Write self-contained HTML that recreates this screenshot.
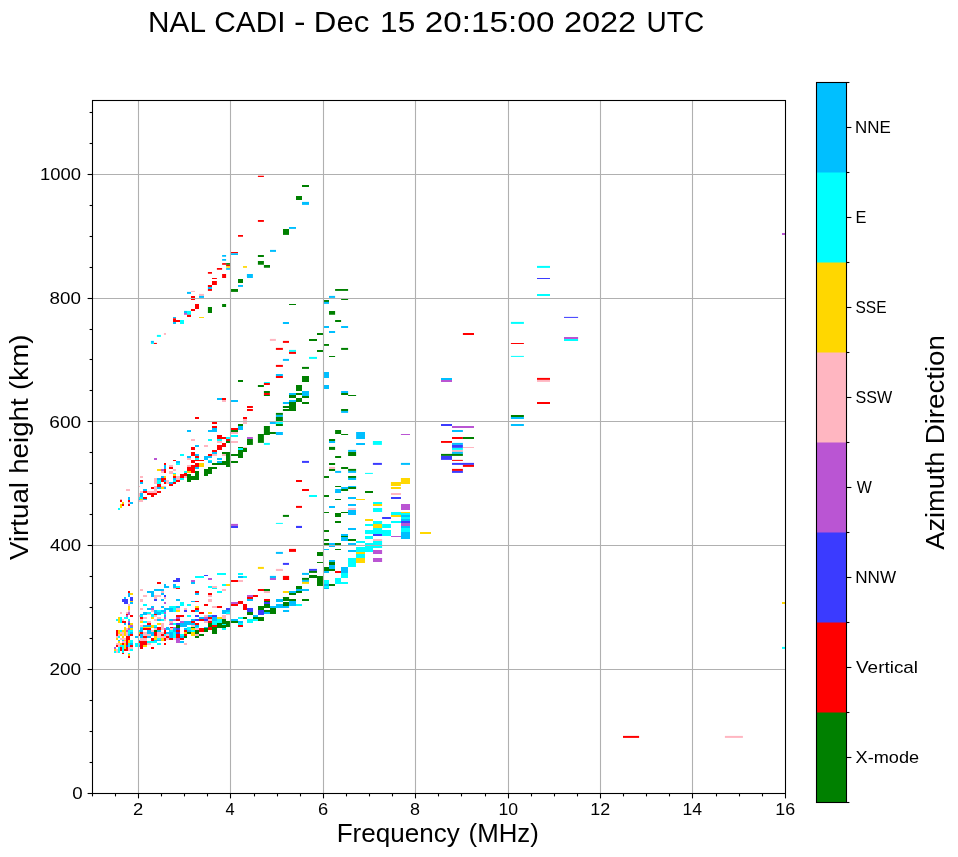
<!DOCTYPE html>
<html><head><meta charset="utf-8"><title>NAL CADI ionogram</title>
<style>html,body{margin:0;padding:0;background:#fff;}svg{display:block;will-change:transform;}text{font-family:"Liberation Sans",sans-serif;fill:#000;}</style></head>
<body>
<svg width="958" height="857" viewBox="0 0 958 857">
<rect width="958" height="857" fill="#fff"/>
<g>
<path fill="#ff0000" d="M238 234.9H243V236.8H238zM231 251.9H238V253.2H231z"/>
<path fill="#00bfff" d="M231 253.2H238V254.9H231zM222.1 255.1H226.1V256.7H222.1zM222.1 259.1H226.1V260.7H222.1z"/>
<path fill="#ff0000" d="M222.1 263.1H226.1V264.8H222.1z"/>
<path fill="#008000" d="M226.1 263.1H230.1V264.8H226.1z"/>
<path fill="#ff0000" d="M226.1 264.8H230.1V266.1H226.1z"/>
<path fill="#ffd700" d="M226.1 266.1H230.1V267.8H226.1z"/>
<path fill="#00bfff" d="M226.1 268.1H230.1V269.8H226.1z"/>
<path fill="#ffd700" d="M243 266.1H247V267.8H243z"/>
<path fill="#ff0000" d="M216.9 268.1H222.1V269.8H216.9zM207.9 272.1H212V273.8H207.9zM222.1 274H226.1V277H222.1zM257.9 175.8H263.9V176.9H257.9z"/>
<path fill="#008000" d="M302 184.9H309V186.9H302zM296 195.9H302V199.9H296z"/>
<path fill="#00bfff" d="M302 201.9H309V204.9H302z"/>
<path fill="#ff0000" d="M257.9 220H263.9V221.9H257.9z"/>
<path fill="#00bfff" d="M289 227H296V228.9H289z"/>
<path fill="#008000" d="M283 229H289V234.9H283z"/>
<path fill="#00bfff" d="M270 249.9H276V251.9H270z"/>
<path fill="#008000" d="M257.9 254.9H263.9V256.9H257.9zM257.9 261.1H263.9V264.8H257.9zM263.9 265.1H270V267.8H263.9z"/>
<path fill="#00bfff" d="M246.9 274H252.9V277H246.9z"/>
<path fill="#ff0000" d="M212 277.9H216.9V279H212zM222.1 277H226.1V278H222.1z"/>
<path fill="#00bfff" d="M247 277H250V278H247z"/>
<path fill="#008000" d="M238 279H243V283H238z"/>
<path fill="#00bfff" d="M238 285H243V286.9H238z"/>
<path fill="#008000" d="M231 289H238V291.9H231z"/>
<path fill="#ff0000" d="M212 281H216.9V285H212zM207.9 285H212V287H207.9z"/>
<path fill="#00bfff" d="M207.9 287H212V289H207.9z"/>
<path fill="#ff0000" d="M207.9 289H212V290.9H207.9z"/>
<path fill="#ffb6c1" d="M191 290.9H195V291.9H191z"/>
<path fill="#00bfff" d="M187 291.9H191V293.9H187z"/>
<path fill="#ffb6c1" d="M199 293.9H204V295.9H199z"/>
<path fill="#00bfff" d="M199 295.9H204V297.9H199z"/>
<path fill="#ff0000" d="M191 295.9H195V299.9H191zM195 303.9H199V308.9H195zM191 308.9H195V310.9H191z"/>
<path fill="#008000" d="M222.1 303.9H226.1V306.9H222.1zM207.9 306.9H212V313H207.9z"/>
<path fill="#00bfff" d="M184 310.9H187V313H184z"/>
<path fill="#ba55d3" d="M184 313H187V314.8H184z"/>
<path fill="#00ffff" d="M187 310.9H191V314.8H187z"/>
<path fill="#ff0000" d="M187 314.8H191V317H187z"/>
<path fill="#ffd700" d="M199 317H204V318H199z"/>
<path fill="#00bfff" d="M173 317H176V318.2H173z"/>
<path fill="#ff0000" d="M173 318.2H176V322H173zM176 320H180V322H176z"/>
<path fill="#00bfff" d="M173 322H176V324H173z"/>
<path fill="#00ffff" d="M180 320H184V324H180z"/>
<path fill="#ffb6c1" d="M163.9 333H166V334.9H163.9z"/>
<path fill="#00ffff" d="M156.9 334.9H160.9V336.9H156.9z"/>
<path fill="#00bfff" d="M150.9 340.9H153.9V342.9H150.9z"/>
<path fill="#00ffff" d="M150.9 342.9H153.9V344H150.9z"/>
<path fill="#ff0000" d="M153.9 342.9H156.9V344H153.9z"/>
<path fill="#008000" d="M238 380H243V382H238z"/>
<path fill="#00bfff" d="M250 277H252.9V278H250z"/>
<path fill="#008000" d="M335.1 289H348.1V290.9H335.1z"/>
<path fill="#00bfff" d="M329 295.9H335.1V297.9H329z"/>
<path fill="#008000" d="M341.1 298.9H348.1V299.9H341.1zM324 299.9H329V301.9H324z"/>
<path fill="#00bfff" d="M324 301.9H329V303.9H324z"/>
<path fill="#008000" d="M289 303.9H296V304.9H289zM329 310.9H335.1V314.8H329zM335.1 320H341.1V322H335.1z"/>
<path fill="#00bfff" d="M282.9 322H289V324H282.9zM324 326H329V328H324zM341.1 326H348.1V328H341.1zM329 331H335.1V333H329z"/>
<path fill="#008000" d="M317 333H323V334.9H317zM309 338.9H317V340.9H309z"/>
<path fill="#ffb6c1" d="M269.9 338.9H275.9V340.9H269.9z"/>
<path fill="#ff0000" d="M282.9 340.9H289V342.9H282.9z"/>
<path fill="#008000" d="M324 344H329V345.9H324z"/>
<path fill="#ff0000" d="M275.9 347.9H282.9V349.9H275.9z"/>
<path fill="#008000" d="M341.1 347.9H348.1V349.9H341.1z"/>
<path fill="#00ffff" d="M289 349.9H296V351.9H289z"/>
<path fill="#ff0000" d="M289 351.9H296V353.9H289z"/>
<path fill="#008000" d="M317 349.9H323V351.9H317zM329 355.9H335.1V356.9H329z"/>
<path fill="#00ffff" d="M309 356.9H317V358.9H309z"/>
<path fill="#00bfff" d="M282.9 358.9H289V360.9H282.9z"/>
<path fill="#ff0000" d="M275.9 364.9H282.9V366.9H275.9z"/>
<path fill="#008000" d="M302 366.9H309V368.9H302z"/>
<path fill="#00bfff" d="M324 372H329V378H324zM275.9 374H282.9V376H275.9z"/>
<path fill="#ff0000" d="M275.9 376H282.9V378H275.9z"/>
<path fill="#008000" d="M302 376H309V382H302z"/>
<path fill="#00ffff" d="M263.9 382H269.9V383H263.9z"/>
<path fill="#ff0000" d="M263.9 383H269.9V384H263.9zM462.9 333H474V334.9H462.9z"/>
<path fill="#00bfff" d="M441 378H452V380H441z"/>
<path fill="#ba55d3" d="M441 380H452V382H441z"/>
<path fill="#00ffff" d="M537 265.9H550V267.9H537z"/>
<path fill="#3b3bff" d="M537 278H550V279H537z"/>
<path fill="#00ffff" d="M537 294H550V296H537z"/>
<path fill="#3b3bff" d="M564 316.9H578.1V317.9H564z"/>
<path fill="#00ffff" d="M510.9 321.9H523.9V323.9H510.9z"/>
<path fill="#ba55d3" d="M564 337H578.1V339H564z"/>
<path fill="#00ffff" d="M564 339H578.1V341H564z"/>
<path fill="#ff0000" d="M510.9 343H523.9V344H510.9z"/>
<path fill="#00ffff" d="M510.9 355.9H523.9V356.9H510.9z"/>
<path fill="#ff0000" d="M537 377.9H550V379.9H537z"/>
<path fill="#ffb6c1" d="M537 379.9H550V381.9H537z"/>
<path fill="#ff0000" d="M537 402H550V404H537z"/>
<path fill="#008000" d="M510.9 415H523.9V417H510.9z"/>
<path fill="#00bfff" d="M510.9 417H523.9V419H510.9zM510.9 423.9H523.9V425.9H510.9z"/>
<path fill="#ff0000" d="M263.9 384H269.9V385H263.9z"/>
<path fill="#008000" d="M257.9 385H263.9V387H257.9zM263.9 391H269.9V393H263.9z"/>
<path fill="#ff0000" d="M263.9 393H269.9V395H263.9z"/>
<path fill="#008000" d="M263.9 395H269.9V396H263.9zM296 385H302V391H296z"/>
<path fill="#00bfff" d="M289 393H296V395H289z"/>
<path fill="#008000" d="M296 393H302V395H296z"/>
<path fill="#00bfff" d="M302 391H309V396H302z"/>
<path fill="#008000" d="M302 396H309V397.9H302zM289 395H296V397.9H289zM296 397.9H302V401.9H296z"/>
<path fill="#00bfff" d="M289 399.9H296V401.9H289zM282.9 401.9H289V403.9H282.9z"/>
<path fill="#008000" d="M289 401.9H296V410.9H289zM302 401.9H309V403.9H302zM282.9 405.9H289V407.9H282.9zM282.9 408.9H289V410.9H282.9z"/>
<path fill="#ff0000" d="M250 405.9H252.9V407.9H250zM250 408.9H252.9V410.9H250z"/>
<path fill="#008000" d="M275.9 412.9H282.9V414.9H275.9z"/>
<path fill="#00bfff" d="M275.9 414.9H282.9V416.9H275.9z"/>
<path fill="#008000" d="M275.9 416.9H282.9V421.8H275.9z"/>
<path fill="#00bfff" d="M269.9 421.8H275.9V424H269.9z"/>
<path fill="#00ffff" d="M275.9 421.8H282.9V424H275.9z"/>
<path fill="#008000" d="M275.9 424H282.9V426H275.9zM263.9 426H269.9V435H263.9zM269.9 432H275.9V434H269.9z"/>
<path fill="#00bfff" d="M275.9 432H282.9V435H275.9z"/>
<path fill="#008000" d="M257.9 434H263.9V442.9H257.9z"/>
<path fill="#ba55d3" d="M250 437H252.9V439H250z"/>
<path fill="#008000" d="M250 439H252.9V444.9H250z"/>
<path fill="#00ffff" d="M263.9 442.9H269.9V444.9H263.9z"/>
<path fill="#3b3bff" d="M302 460.9H309V462.9H302z"/>
<path fill="#ff0000" d="M296 480H302V482H296zM302 489H309V491H302z"/>
<path fill="#00bfff" d="M324 385H329V389H324zM341.1 391H348.1V393H341.1z"/>
<path fill="#008000" d="M341.1 393H348.1V395H341.1zM348.1 395H356.1V396H348.1zM341.1 408.9H348.1V410.9H341.1z"/>
<path fill="#00bfff" d="M341.1 410.9H348.1V412.9H341.1z"/>
<path fill="#008000" d="M335.1 430H341.1V434H335.1zM341.1 434H348.1V435H341.1z"/>
<path fill="#00bfff" d="M356.1 432H365V439H356.1z"/>
<path fill="#008000" d="M329 439H335.1V441H329z"/>
<path fill="#00bfff" d="M329 441H335.1V442.9H329zM356.1 442.9H365V444.9H356.1z"/>
<path fill="#008000" d="M329 446.9H335.1V449.9H329z"/>
<path fill="#00bfff" d="M348.1 449.9H356.1V451.9H348.1z"/>
<path fill="#008000" d="M348.1 451.9H356.1V455.9H348.1zM335.1 455.9H341.1V457.9H335.1zM329 462.9H335.1V464.9H329z"/>
<path fill="#ffb6c1" d="M329 466.9H335.1V468.9H329z"/>
<path fill="#008000" d="M329 468.9H335.1V470.9H329zM341.1 466.9H348.1V468.9H341.1z"/>
<path fill="#00bfff" d="M335.1 470.9H341.1V472.9H335.1z"/>
<path fill="#008000" d="M348.1 468.9H356.1V470.9H348.1z"/>
<path fill="#00bfff" d="M348.1 470.9H356.1V472.9H348.1z"/>
<path fill="#00ffff" d="M365 472.9H370V473.9H365z"/>
<path fill="#008000" d="M324 475.9H329V477.9H324zM348.1 475.9H356.1V477.9H348.1z"/>
<path fill="#00bfff" d="M348.1 477.9H356.1V480H348.1z"/>
<path fill="#008000" d="M335.1 486H341.1V487H335.1z"/>
<path fill="#00bfff" d="M341.1 487H348.1V489H341.1zM348.1 486H356.1V487H348.1z"/>
<path fill="#008000" d="M348.1 487H356.1V489H348.1z"/>
<path fill="#00bfff" d="M335.1 489H341.1V491H335.1z"/>
<path fill="#008000" d="M341.1 489H348.1V491H341.1z"/>
<path fill="#00bfff" d="M217 398H222V400H217z"/>
<path fill="#ff0000" d="M222 398H226V400H222z"/>
<path fill="#ffb6c1" d="M222 400H226V402H222z"/>
<path fill="#00bfff" d="M231 400H238V402H231z"/>
<path fill="#ff0000" d="M247 406H250V408H247zM247 409H250V411H247zM195 417H199V419H195zM243 417H247V419H243z"/>
<path fill="#ffb6c1" d="M243 419H247V421H243zM243 422H247V424H243z"/>
<path fill="#ff0000" d="M212 422H217V424H212zM212 426H217V428H212z"/>
<path fill="#00bfff" d="M212 428H217V430H212zM208 430H217V432H208z"/>
<path fill="#008000" d="M238 424H243V426H238z"/>
<path fill="#00bfff" d="M238 426H243V430H238z"/>
<path fill="#ff0000" d="M231 428H238V430H231z"/>
<path fill="#008000" d="M231 430H238V432H231z"/>
<path fill="#ffb6c1" d="M231 432H238V434H231z"/>
<path fill="#00ffff" d="M231 435H238V437H231z"/>
<path fill="#ff0000" d="M217 435H222V439H217zM222 437H226V439H222z"/>
<path fill="#00ffff" d="M226 437H230V439H226zM217 439H222V441H217z"/>
<path fill="#ff0000" d="M226 439H230V441H226z"/>
<path fill="#008000" d="M226 441H230V443H226z"/>
<path fill="#ffb6c1" d="M217 441H222V443H217zM191 439H195V441H191z"/>
<path fill="#00ffff" d="M208 439H212V441H208z"/>
<path fill="#ffb6c1" d="M231 441H238V443H231z"/>
<path fill="#ff0000" d="M222 443H226V444H222z"/>
<path fill="#ba55d3" d="M247 437H250V439H247z"/>
<path fill="#008000" d="M247 439H250V444H247z"/>
<path fill="#ff0000" d="M222 444H226V447H222zM217 445H222V450H217z"/>
<path fill="#00bfff" d="M195 445H199V447H195z"/>
<path fill="#ffb6c1" d="M204 445H208V447H204z"/>
<path fill="#ff0000" d="M191 447H195V450H191zM212 450H217V452H212z"/>
<path fill="#00bfff" d="M212 452H217V454H212z"/>
<path fill="#ffb6c1" d="M212 454H217V456H212z"/>
<path fill="#ff0000" d="M191 452H195V456H191z"/>
<path fill="#00bfff" d="M195 454H199V456H195z"/>
<path fill="#ff0000" d="M208 454H212V456H208zM195 456H199V458H195z"/>
<path fill="#00bfff" d="M190 456H191V458H190zM204 456H212V458H204zM204 458H208V460H204z"/>
<path fill="#00ffff" d="M195 458H199V460H195z"/>
<path fill="#ffb6c1" d="M190 458H191V460H190z"/>
<path fill="#ff0000" d="M191 460H204V461H191zM191 461H195V463H191z"/>
<path fill="#00ffff" d="M208 460H212V461H208z"/>
<path fill="#00bfff" d="M208 461H212V463H208zM217 458H222V460H217zM217 461H222V463H217z"/>
<path fill="#ffb6c1" d="M222 454H226V456H222z"/>
<path fill="#008000" d="M222 452H230V454H222zM226 454H230V467H226zM222 461H226V463H222zM212 463H226V465H212z"/>
<path fill="#ff0000" d="M195 463H199V467H195z"/>
<path fill="#ffd700" d="M199 463H204V467H199z"/>
<path fill="#ff0000" d="M191 465H195V473H191zM190 467H191V471H190z"/>
<path fill="#ffd700" d="M190 471H191V473H190z"/>
<path fill="#ffb6c1" d="M190 465H191V467H190z"/>
<path fill="#00bfff" d="M195 467H199V469H195z"/>
<path fill="#008000" d="M208 467H217V469H208zM204 469H212V474H204zM204 474H208V476H204zM195 471H199V480H195zM190 476H195V480H190zM190 474H191V482H190zM247 444H250V445H247z"/>
<path fill="#ffb6c1" d="M243 447H247V448H243z"/>
<path fill="#008000" d="M238 447H243V448H238z"/>
<path fill="#00ffff" d="M238 448H243V450H238z"/>
<path fill="#008000" d="M243 448H247V452H243zM238 450H243V458H238zM231 454H238V456H231zM231 461H238V463H231z"/>
<path fill="#00ffff" d="M180 454H184V456H180z"/>
<path fill="#00bfff" d="M187 456H190V458H187z"/>
<path fill="#ffb6c1" d="M187 458H190V460H187z"/>
<path fill="#ba55d3" d="M154 458H157V460H154z"/>
<path fill="#ff0000" d="M173 460H176V461H173z"/>
<path fill="#00bfff" d="M176 461H180V463H176z"/>
<path fill="#00ffff" d="M176 463H180V465H176z"/>
<path fill="#ff0000" d="M164 463H166V465H164z"/>
<path fill="#00bfff" d="M164 465H166V469H164z"/>
<path fill="#ff0000" d="M164 469H166V473H164z"/>
<path fill="#ffb6c1" d="M169 465H173V467H169z"/>
<path fill="#ff0000" d="M169 467H173V469H169z"/>
<path fill="#ffb6c1" d="M187 465H190V467H187z"/>
<path fill="#ff0000" d="M187 467H190V471H187z"/>
<path fill="#ffd700" d="M157 469H161V471H157z"/>
<path fill="#ba55d3" d="M161 469H164V471H161z"/>
<path fill="#ffb6c1" d="M161 471H164V473H161zM173 469H176V471H173zM169 471H173V474H169z"/>
<path fill="#00ffff" d="M184 471H187V473H184z"/>
<path fill="#ffd700" d="M187 471H190V473H187z"/>
<path fill="#008000" d="M187 474H190V482H187z"/>
<path fill="#00ffff" d="M173 473H176V474H173z"/>
<path fill="#ffd700" d="M173 474H176V476H173z"/>
<path fill="#ff0000" d="M173 476H176V478H173z"/>
<path fill="#00bfff" d="M173 478H176V480H173z"/>
<path fill="#00ffff" d="M173 480H176V482H173z"/>
<path fill="#ff0000" d="M173 482H176V484H173zM180 474H184V478H180zM184 473H187V476H184z"/>
<path fill="#ffb6c1" d="M184 476H187V478H184zM176 476H180V480H176z"/>
<path fill="#00ffff" d="M180 478H184V480H180z"/>
<path fill="#ff0000" d="M176 480H180V482H176z"/>
<path fill="#ffb6c1" d="M140 476H143V478H140z"/>
<path fill="#00bfff" d="M161 476H164V478H161z"/>
<path fill="#ffd700" d="M164 476H166V478H164z"/>
<path fill="#ffb6c1" d="M154 478H157V484H154z"/>
<path fill="#00bfff" d="M157 478H161V480H157z"/>
<path fill="#00ffff" d="M157 480H161V484H157z"/>
<path fill="#ff0000" d="M161 478H166V480H161zM161 480H164V482H161z"/>
<path fill="#00bfff" d="M164 480H166V482H164z"/>
<path fill="#ff0000" d="M164 482H166V484H164z"/>
<path fill="#ffb6c1" d="M166 480H169V484H166z"/>
<path fill="#00bfff" d="M169 482H173V484H169z"/>
<path fill="#ff0000" d="M169 484H173V486H169zM140 480H143V482H140z"/>
<path fill="#00bfff" d="M140 482H143V484H140z"/>
<path fill="#ff0000" d="M157 484H161V487H157z"/>
<path fill="#ffb6c1" d="M161 486H166V487H161z"/>
<path fill="#00bfff" d="M157 487H161V489H157z"/>
<path fill="#ffd700" d="M161 487H164V489H161z"/>
<path fill="#00bfff" d="M164 487H166V489H164z"/>
<path fill="#ff0000" d="M151 487H154V489H151z"/>
<path fill="#ffb6c1" d="M154 486H157V493H154zM139 486H140V487H139z"/>
<path fill="#00bfff" d="M143 489H147V491H143z"/>
<path fill="#ff0000" d="M143 491H147V493H143z"/>
<path fill="#ffb6c1" d="M140 491H143V493H140zM147 491H154V493H147z"/>
<path fill="#ff0000" d="M157 491H161V493H157zM147 493H157V495H147zM151 495H154V497H151z"/>
<path fill="#00bfff" d="M140 493H143V497H140z"/>
<path fill="#ffb6c1" d="M139 493H140V497H139z"/>
<path fill="#00ffff" d="M139 497H143V498H139z"/>
<path fill="#ff0000" d="M143 497H147V498H143z"/>
<path fill="#00bfff" d="M187 430H191V432H187z"/>
<path fill="#3b3bff" d="M441 424H452V426H441z"/>
<path fill="#ba55d3" d="M452 426H474V428H452z"/>
<path fill="#00bfff" d="M452 430H462.9V432H452z"/>
<path fill="#ba55d3" d="M400.9 434H410V435H400.9z"/>
<path fill="#ff0000" d="M452 437H462.9V439H452z"/>
<path fill="#008000" d="M462.9 437H474V439H462.9z"/>
<path fill="#ff0000" d="M441 441H452V442.9H441z"/>
<path fill="#00ffff" d="M372.9 441H381.9V444.9H372.9z"/>
<path fill="#00bfff" d="M452 442.9H462.9V444.9H452z"/>
<path fill="#3b3bff" d="M452 444.9H462.9V447.9H452z"/>
<path fill="#00ffff" d="M452 447.9H462.9V449.9H452z"/>
<path fill="#ffb6c1" d="M462.9 446.9H474V447.9H462.9zM452 449.9H462.9V451.9H452z"/>
<path fill="#00bfff" d="M452 451.9H462.9V453.9H452z"/>
<path fill="#008000" d="M441 453.9H462.9V455.9H441z"/>
<path fill="#3b3bff" d="M441 455.9H452V459.9H441z"/>
<path fill="#ff0000" d="M452 459.9H462.9V460.9H452z"/>
<path fill="#3b3bff" d="M452 462.9H474V464.9H452z"/>
<path fill="#ff0000" d="M462.9 464.9H474V466.9H462.9z"/>
<path fill="#00bfff" d="M400.9 462.9H410V464.9H400.9z"/>
<path fill="#3b3bff" d="M372.9 462.9H381.9V464.9H372.9z"/>
<path fill="#ff0000" d="M452 468.9H462.9V470.9H452z"/>
<path fill="#3b3bff" d="M452 470.9H462.9V472.9H452z"/>
<path fill="#00ffff" d="M370 472.9H372.9V473.9H370z"/>
<path fill="#ffd700" d="M400.9 477.9H410V484H400.9zM390.9 482H400.9V486H390.9zM390.9 487H400.9V489H390.9z"/>
<path fill="#00ffff" d="M309 495H317V497H309z"/>
<path fill="#ff0000" d="M296 505.9H302V507.9H296z"/>
<path fill="#008000" d="M282.9 514.9H289V516.9H282.9z"/>
<path fill="#00ffff" d="M275.9 522.9H282.9V523.9H275.9z"/>
<path fill="#3b3bff" d="M296 525.9H302V528H296z"/>
<path fill="#ff0000" d="M289 548.9H296V551.9H289z"/>
<path fill="#00bfff" d="M275.9 551.9H282.9V553.9H275.9z"/>
<path fill="#008000" d="M317 551.9H323V555.9H317zM317 561.9H323V562.9H317z"/>
<path fill="#3b3bff" d="M282.9 562.9H289V564.9H282.9z"/>
<path fill="#ffd700" d="M257.9 566.9H263.9V568.9H257.9z"/>
<path fill="#ffb6c1" d="M275.9 568.9H282.9V570.9H275.9z"/>
<path fill="#3b3bff" d="M309 568.9H317V570.9H309z"/>
<path fill="#008000" d="M309 570.9H317V572.9H309z"/>
<path fill="#00bfff" d="M302 572.9H309V574.9H302z"/>
<path fill="#008000" d="M309 574.9H317V577.9H309zM317 575.9H323V586H317z"/>
<path fill="#00bfff" d="M269.9 575.9H275.9V577.9H269.9z"/>
<path fill="#ba55d3" d="M269.9 577.9H275.9V579.9H269.9z"/>
<path fill="#ff0000" d="M282.9 575.9H289V579.9H282.9z"/>
<path fill="#008000" d="M302 577.9H309V579.9H302z"/>
<path fill="#00bfff" d="M302 579.9H309V581.9H302z"/>
<path fill="#ffd700" d="M302 581.9H309V583.9H302z"/>
<path fill="#008000" d="M296 586H302V589H296z"/>
<path fill="#00bfff" d="M302 589H309V591H302z"/>
<path fill="#ff0000" d="M257.9 589H263.9V591H257.9z"/>
<path fill="#008000" d="M263.9 589H269.9V591H263.9z"/>
<path fill="#ffb6c1" d="M263.9 591H269.9V593H263.9z"/>
<path fill="#ffd700" d="M282.9 591H289V593H282.9z"/>
<path fill="#00bfff" d="M289 591H296V593H289zM296 589H302V591H296z"/>
<path fill="#008000" d="M296 591H302V593H296zM289 593H296V595H289z"/>
<path fill="#ba55d3" d="M250 595H252.9V597H250z"/>
<path fill="#ff0000" d="M252.9 595H257.9V597H252.9zM250 597H252.9V598H250z"/>
<path fill="#008000" d="M282.9 597H289V598H282.9z"/>
<path fill="#00bfff" d="M335 491H341V493H335z"/>
<path fill="#008000" d="M365 491H373V493H365zM324 495H329V497H324zM335 499H341V500H335z"/>
<path fill="#00bfff" d="M348 497H356V499H348z"/>
<path fill="#ffd700" d="M356 499H365V500H356z"/>
<path fill="#00ffff" d="M373 502H382.1V504H373z"/>
<path fill="#ffd700" d="M373 504H382.1V506H373z"/>
<path fill="#00bfff" d="M348 504H356V506H348zM329 506H335V508H329z"/>
<path fill="#ffb6c1" d="M348 508H356V510H348z"/>
<path fill="#00ffff" d="M373 508H382.1V512H373z"/>
<path fill="#00bfff" d="M348 510H356V515H348z"/>
<path fill="#008000" d="M324 512H329V513H324zM341 512H348V513H341zM335 513H341V517H335z"/>
<path fill="#3b3bff" d="M382.1 517H383V519H382.1z"/>
<path fill="#ffd700" d="M365 519H373V521H365z"/>
<path fill="#008000" d="M335 521H341V523H335z"/>
<path fill="#00ffff" d="M373 521H382.1V524H373zM365 524H373V526H365z"/>
<path fill="#ffd700" d="M373 524H382.1V528H373z"/>
<path fill="#00ffff" d="M382.1 524H383V528H382.1z"/>
<path fill="#00bfff" d="M348 528H356V530H348z"/>
<path fill="#00ffff" d="M373 528H382.1V534H373zM382.1 530H383V536H382.1z"/>
<path fill="#008000" d="M324 530H329V532H324z"/>
<path fill="#00ffff" d="M365 530H373V534H365z"/>
<path fill="#3b3bff" d="M373 534H382.1V536H373z"/>
<path fill="#00bfff" d="M341 534H348V536H341z"/>
<path fill="#008000" d="M341 536H348V537H341z"/>
<path fill="#00bfff" d="M341 537H348V541H341z"/>
<path fill="#00ffff" d="M365 536H373V539H365z"/>
<path fill="#008000" d="M348 539H356V541H348zM324 539H329V541H324z"/>
<path fill="#ffb6c1" d="M373 539H382.1V541H373z"/>
<path fill="#00ffff" d="M356 541H365V543H356zM373 541H382.1V545H373z"/>
<path fill="#008000" d="M324 543H329V545H324z"/>
<path fill="#00bfff" d="M329 543H335V545H329z"/>
<path fill="#008000" d="M335 543H341V545H335z"/>
<path fill="#00bfff" d="M348 543H356V545H348z"/>
<path fill="#00ffff" d="M365 543H373V545H365z"/>
<path fill="#ffb6c1" d="M391 493H401V495H391z"/>
<path fill="#3b3bff" d="M391 497H401V499H391z"/>
<path fill="#ba55d3" d="M401 504H410V510H401z"/>
<path fill="#00ffff" d="M391 512H401V515H391z"/>
<path fill="#ffd700" d="M401 512H410V513H401z"/>
<path fill="#00ffff" d="M401 513H410V515H401z"/>
<path fill="#ffd700" d="M391 515H401V517H391z"/>
<path fill="#00bfff" d="M401 515H410V517H401z"/>
<path fill="#3b3bff" d="M383 517H391V519H383z"/>
<path fill="#00ffff" d="M401 517H410V519H401z"/>
<path fill="#00bfff" d="M401 519H410V521H401z"/>
<path fill="#00ffff" d="M391 521H401V523H391z"/>
<path fill="#3b3bff" d="M401 521H410V523H401z"/>
<path fill="#ba55d3" d="M401 523H410V526H401z"/>
<path fill="#00bfff" d="M401 526H410V528H401z"/>
<path fill="#00ffff" d="M383 524H391V528H383zM401 528H410V532H401zM383 530H391V536H383z"/>
<path fill="#00bfff" d="M401 532H410V539H401z"/>
<path fill="#ba55d3" d="M391 536H401V537H391z"/>
<path fill="#ffd700" d="M420 532H431V534H420z"/>
<path fill="#00bfff" d="M329 545.6H335V547H329z"/>
<path fill="#00ffff" d="M365 545H382.1V548H365zM356 547H365V552H356zM365 548H373V552H365z"/>
<path fill="#00bfff" d="M324 549H329V550H324z"/>
<path fill="#008000" d="M335 549H341V550H335z"/>
<path fill="#00bfff" d="M348 550H356V552H348z"/>
<path fill="#ba55d3" d="M373 550H382.1V554H373z"/>
<path fill="#ffd700" d="M356 552H365V554H356z"/>
<path fill="#00ffff" d="M356 554H365V558H356z"/>
<path fill="#ffd700" d="M356 558H365V563H356z"/>
<path fill="#00ffff" d="M348 558H356V567H348z"/>
<path fill="#ba55d3" d="M373 558H382.1V562H373z"/>
<path fill="#00bfff" d="M329 560H335V562H329z"/>
<path fill="#008000" d="M329 562H335V565H329z"/>
<path fill="#00bfff" d="M329 565H335V569H329z"/>
<path fill="#008000" d="M324 567H329V571H324zM329 569H335V571H329z"/>
<path fill="#00bfff" d="M324 571H329V573H324z"/>
<path fill="#ff0000" d="M335 571H341V573H335z"/>
<path fill="#00bfff" d="M341 567H348V573H341z"/>
<path fill="#00ffff" d="M341 573H348V578H341zM335 578H341V584H335zM341 582H348V584H341zM324 580H329V584H324z"/>
<path fill="#00bfff" d="M324 584H329V586H324z"/>
<path fill="#008000" d="M329 584H335V586H329z"/>
<path fill="#00ffff" d="M324 586H329V588H324z"/>
<path fill="#00bfff" d="M324 588H329V589H324z"/>
<path fill="#ff0000" d="M128 591H130V593H128z"/>
<path fill="#00bfff" d="M128 593H130V597H128z"/>
<path fill="#ffd700" d="M130 593H133V595H130z"/>
<path fill="#00bfff" d="M124 597H126V599H124z"/>
<path fill="#3b3bff" d="M130 597H133V601H130zM122 599H128V602H122zM124 602H128V604H124z"/>
<path fill="#ffd700" d="M130 601H133V602H130z"/>
<path fill="#00bfff" d="M130 602H133V604H130z"/>
<path fill="#ffb6c1" d="M128 604H130V606H128z"/>
<path fill="#ffd700" d="M128 606H130V610H128z"/>
<path fill="#ffb6c1" d="M128 610H130V612H128z"/>
<path fill="#ba55d3" d="M128 612H130V615H128z"/>
<path fill="#ffb6c1" d="M120 612H122V614H120zM126 612H128V614H126z"/>
<path fill="#ff0000" d="M126 614H128V615H126z"/>
<path fill="#ba55d3" d="M126 615H128V617H126z"/>
<path fill="#ff0000" d="M130 615H133V617H130z"/>
<path fill="#00ffff" d="M124 617H128V619H124z"/>
<path fill="#ffd700" d="M118 617H120V623H118z"/>
<path fill="#00ffff" d="M120 617H122V623H120zM116 619H118V621H116z"/>
<path fill="#ffb6c1" d="M122 619H124V621H122z"/>
<path fill="#00ffff" d="M128 619H130V621H128z"/>
<path fill="#ff0000" d="M122 621H126V623H122z"/>
<path fill="#ba55d3" d="M128 621H130V623H128z"/>
<path fill="#00bfff" d="M124 623H126V624H124z"/>
<path fill="#3b3bff" d="M128 623H130V624H128z"/>
<path fill="#ffd700" d="M130 623H133V624H130z"/>
<path fill="#ff0000" d="M157 582H161V584H157z"/>
<path fill="#00bfff" d="M164 584H166V588H164zM166 586H169.1V588H166z"/>
<path fill="#ffb6c1" d="M140 589H143V591H140z"/>
<path fill="#00bfff" d="M154 589H164V591H154zM147 591H154V593H147z"/>
<path fill="#ffb6c1" d="M161 591H164V593H161z"/>
<path fill="#00bfff" d="M151 593H154V597H151zM161 593H164V595H161z"/>
<path fill="#ffb6c1" d="M143 595H147V597H143zM154 595H161V597H154z"/>
<path fill="#3b3bff" d="M164 595H166V597H164z"/>
<path fill="#ffb6c1" d="M154 597H157V599H154zM164 597H166V599H164z"/>
<path fill="#3b3bff" d="M154 599H157V601H154z"/>
<path fill="#00bfff" d="M161 599H164V601H161z"/>
<path fill="#ffb6c1" d="M140 599H143V602H140z"/>
<path fill="#ba55d3" d="M164 602H166V604H164z"/>
<path fill="#00ffff" d="M143 604H147V606H143z"/>
<path fill="#00bfff" d="M151 606H154V608H151zM161 606H164V608H161z"/>
<path fill="#00ffff" d="M169.1 606H170V608H169.1z"/>
<path fill="#ffb6c1" d="M140 608H143V610H140z"/>
<path fill="#00bfff" d="M147 608H151V610H147z"/>
<path fill="#ba55d3" d="M151 608H154V610H151z"/>
<path fill="#00bfff" d="M164 608H170V610H164z"/>
<path fill="#ffb6c1" d="M151 610H154V612H151z"/>
<path fill="#00bfff" d="M154 610H157V614H154z"/>
<path fill="#00ffff" d="M157 610H161V612H157z"/>
<path fill="#00bfff" d="M161 610H166V612H161zM169.1 610H170V612H169.1zM143 612H147V615H143z"/>
<path fill="#00ffff" d="M147 612H151V614H147z"/>
<path fill="#00bfff" d="M157 612H161V615H157z"/>
<path fill="#00ffff" d="M161 612H164V614H161z"/>
<path fill="#ba55d3" d="M164 612H166V614H164z"/>
<path fill="#00bfff" d="M140 614H143V615H140z"/>
<path fill="#ffb6c1" d="M147 614H151V615H147z"/>
<path fill="#00ffff" d="M151 614H154V617H151z"/>
<path fill="#ff0000" d="M154 614H157V615H154z"/>
<path fill="#ffb6c1" d="M154 615H157V617H154z"/>
<path fill="#00ffff" d="M164 614H166V615H164z"/>
<path fill="#00bfff" d="M164 615H166V617H164z"/>
<path fill="#00ffff" d="M140 615H143V617H140z"/>
<path fill="#ffb6c1" d="M139 615H140V617H139z"/>
<path fill="#ff0000" d="M140 617H143V619H140z"/>
<path fill="#ffb6c1" d="M143 617H147V619H143z"/>
<path fill="#ffd700" d="M151 617H154V619H151z"/>
<path fill="#ffb6c1" d="M157 617H161V619H157z"/>
<path fill="#ba55d3" d="M164 617H166V619H164z"/>
<path fill="#ffb6c1" d="M140 619H143V621H140zM154 619H157V621H154z"/>
<path fill="#00bfff" d="M157 619H161V621H157z"/>
<path fill="#00ffff" d="M161 619H164V621H161z"/>
<path fill="#ffb6c1" d="M164 619H166V621H164z"/>
<path fill="#00bfff" d="M169.1 619H170V621H169.1z"/>
<path fill="#ffd700" d="M140 621H143V623H140z"/>
<path fill="#00ffff" d="M143 621H147V623H143z"/>
<path fill="#ffb6c1" d="M147 621H151V623H147z"/>
<path fill="#ff0000" d="M147 623H151V624H147z"/>
<path fill="#ffd700" d="M157 623H161V624H157z"/>
<path fill="#ffb6c1" d="M161 623H164V624H161zM169.1 621H170V624H169.1z"/>
<path fill="#00ffff" d="M217 573H226V575H217z"/>
<path fill="#3b3bff" d="M204 575H208V576H204z"/>
<path fill="#00ffff" d="M195 576H204V578H195z"/>
<path fill="#ba55d3" d="M208 578H212V580H208z"/>
<path fill="#3b3bff" d="M176 578H180V582H176zM173 580H176V582H173z"/>
<path fill="#ba55d3" d="M191 580H195V582H191z"/>
<path fill="#00bfff" d="M191 582H195V584H191zM173 584H176V588H173z"/>
<path fill="#00ffff" d="M176 586H180V588H176z"/>
<path fill="#ffb6c1" d="M173 588H176V589H173z"/>
<path fill="#ff0000" d="M176 588H180V589H176z"/>
<path fill="#00ffff" d="M222 584H226V586H222z"/>
<path fill="#ffd700" d="M226 584H230V586H226z"/>
<path fill="#00ffff" d="M208 586H212V588H208z"/>
<path fill="#ffb6c1" d="M212 586H217V588H212z"/>
<path fill="#00ffff" d="M212 588H217V589H212z"/>
<path fill="#ffb6c1" d="M222 589H226V591H222z"/>
<path fill="#00ffff" d="M217 591H222V593H217z"/>
<path fill="#ff0000" d="M195 591H199V593H195z"/>
<path fill="#00bfff" d="M195 593H199V595H195z"/>
<path fill="#ff0000" d="M208 593H212V595H208z"/>
<path fill="#ffb6c1" d="M208 595H212V597H208zM208 599H212V602H208z"/>
<path fill="#00bfff" d="M176 599H180V601H176zM191 601H195V602H191z"/>
<path fill="#ff0000" d="M195 601H199V602H195z"/>
<path fill="#00ffff" d="M180 602H184V606H180zM187 604H191V606H187z"/>
<path fill="#ff0000" d="M204 604H208V606H204z"/>
<path fill="#ffd700" d="M195 606H199V608H195z"/>
<path fill="#ff0000" d="M195 608H199V610H195z"/>
<path fill="#00bfff" d="M195 610H199V612H195z"/>
<path fill="#ff0000" d="M191 610H195V612H191z"/>
<path fill="#ffb6c1" d="M212 606H217V608H212z"/>
<path fill="#ff0000" d="M217 606H222V608H217z"/>
<path fill="#00ffff" d="M170 606H176V608H170z"/>
<path fill="#00bfff" d="M176 606H180V608H176z"/>
<path fill="#ffb6c1" d="M176 608H180V610H176z"/>
<path fill="#ffd700" d="M176 610H180V612H176z"/>
<path fill="#00bfff" d="M170 608H173V612H170z"/>
<path fill="#00ffff" d="M173 608H176V612H173z"/>
<path fill="#ffb6c1" d="M184 608H187V610H184z"/>
<path fill="#3b3bff" d="M184 610H187V612H184zM226 608H230V610H226z"/>
<path fill="#00bfff" d="M222 610H226V614H222zM226 610H230V612H226z"/>
<path fill="#00ffff" d="M226 612H230V614H226z"/>
<path fill="#ff0000" d="M199 612H204V614H199z"/>
<path fill="#ffd700" d="M208 612H212V614H208z"/>
<path fill="#ffb6c1" d="M226 614H230V615H226z"/>
<path fill="#ff0000" d="M176 615H184V617H176z"/>
<path fill="#00ffff" d="M187 615H191V617H187z"/>
<path fill="#3b3bff" d="M195 615H199V617H195z"/>
<path fill="#ffb6c1" d="M204 615H208V617H204z"/>
<path fill="#00bfff" d="M208 615H212V617H208z"/>
<path fill="#3b3bff" d="M212 615H217V617H212z"/>
<path fill="#ffb6c1" d="M222 615H226V619H222z"/>
<path fill="#ffd700" d="M217 617H222V619H217z"/>
<path fill="#ba55d3" d="M176 617H180V619H176z"/>
<path fill="#00bfff" d="M199 617H204V619H199z"/>
<path fill="#ba55d3" d="M204 617H208V619H204z"/>
<path fill="#ff0000" d="M208 617H212V619H208z"/>
<path fill="#00bfff" d="M212 617H217V621H212zM170 619H173V621H170z"/>
<path fill="#ba55d3" d="M173 619H176V621H173z"/>
<path fill="#ff0000" d="M176 619H180V621H176z"/>
<path fill="#00bfff" d="M191 619H195V621H191z"/>
<path fill="#3b3bff" d="M195 619H199V621H195z"/>
<path fill="#ff0000" d="M199 619H204V621H199z"/>
<path fill="#3b3bff" d="M204 619H208V621H204z"/>
<path fill="#ffb6c1" d="M208 619H212V621H208z"/>
<path fill="#00ffff" d="M217 619H222V623H217z"/>
<path fill="#008000" d="M222 619H226V624H222zM226 621H230V624H226z"/>
<path fill="#ffb6c1" d="M170 621H173V623H170z"/>
<path fill="#ba55d3" d="M180 621H184V623H180z"/>
<path fill="#00bfff" d="M184 621H191V624H184z"/>
<path fill="#ff0000" d="M191 621H195V623H191z"/>
<path fill="#ffb6c1" d="M204 621H208V623H204z"/>
<path fill="#ff0000" d="M208 621H212V623H208z"/>
<path fill="#00ffff" d="M212 621H217V624H212z"/>
<path fill="#ba55d3" d="M170 623H173V624H170z"/>
<path fill="#00ffff" d="M173 623H176V624H173z"/>
<path fill="#3b3bff" d="M176 623H180V624H176z"/>
<path fill="#00bfff" d="M180 623H184V624H180zM191 623H195V624H191z"/>
<path fill="#ff0000" d="M195 623H199V624H195z"/>
<path fill="#008000" d="M208 623H212V624H208zM217 623H222V624H217z"/>
<path fill="#ffb6c1" d="M276 570H283V571H276z"/>
<path fill="#00ffff" d="M238 573H243V575H238z"/>
<path fill="#00bfff" d="M238 576H243V578H238z"/>
<path fill="#00ffff" d="M243 576H247V578H243z"/>
<path fill="#ff0000" d="M231 580H238V582H231z"/>
<path fill="#ffb6c1" d="M238 580H243V582H238z"/>
<path fill="#00bfff" d="M270 576H276V578H270z"/>
<path fill="#ba55d3" d="M270 578H276V580H270z"/>
<path fill="#ff0000" d="M283 576H289.1V580H283zM258 589H264V591H258z"/>
<path fill="#008000" d="M264 589H270V591H264z"/>
<path fill="#ffb6c1" d="M264 591H270V593H264z"/>
<path fill="#ffd700" d="M283 591H289.1V593H283z"/>
<path fill="#00bfff" d="M289.1 591H290V593H289.1z"/>
<path fill="#008000" d="M289.1 593H290V595H289.1z"/>
<path fill="#ba55d3" d="M247 595H253V597H247z"/>
<path fill="#ff0000" d="M253 595H258V597H253zM247 597H253V599H247z"/>
<path fill="#00bfff" d="M247 599H253V601H247z"/>
<path fill="#ff0000" d="M264 599H270V601H264z"/>
<path fill="#008000" d="M264 601H270V602H264z"/>
<path fill="#3b3bff" d="M264 602H270V604H264z"/>
<path fill="#008000" d="M264 604H270V608H264zM283 597H289.1V601H283zM289.1 599H290V601H289.1z"/>
<path fill="#00bfff" d="M276 599H283V602H276z"/>
<path fill="#008000" d="M283 602H289.1V606H283z"/>
<path fill="#00bfff" d="M289.1 601H290V606H289.1z"/>
<path fill="#ba55d3" d="M231 602H238V604H231z"/>
<path fill="#ff0000" d="M231 604H238V606H231zM238 601H243V604H238zM243 604H247V610H243z"/>
<path fill="#00bfff" d="M276 604H283V608H276zM270 606H276V608H270zM283 606H289.1V608H283z"/>
<path fill="#3b3bff" d="M247 608H253V612H247z"/>
<path fill="#008000" d="M247 612H253V615H247zM258 606H264V610H258z"/>
<path fill="#3b3bff" d="M258 610H264V615H258z"/>
<path fill="#008000" d="M264 610H270V612H264z"/>
<path fill="#00bfff" d="M264 612H270V614H264z"/>
<path fill="#008000" d="M270 608H276V614H270z"/>
<path fill="#00bfff" d="M283 610H289.1V612H283zM253 615H258V617H253z"/>
<path fill="#008000" d="M253 617H258V619H253zM258 617H264V621H258z"/>
<path fill="#00ffff" d="M238 617H243V619H238z"/>
<path fill="#008000" d="M243 617H247V619H243z"/>
<path fill="#00ffff" d="M253 619H258V621H253zM247 619H253V623H247z"/>
<path fill="#00bfff" d="M231 619H238V621H231z"/>
<path fill="#008000" d="M231 621H238V623H231z"/>
<path fill="#00bfff" d="M238 621H243V623H238z"/>
<path fill="#00ffff" d="M238 623H243V624H238z"/>
<path fill="#008000" d="M290 599H296V601H290zM302 599H309V601H302z"/>
<path fill="#00bfff" d="M290 601H296V606H290z"/>
<path fill="#00ffff" d="M296 604H302V606H296z"/>
<path fill="#00bfff" d="M124 624H126V625H124z"/>
<path fill="#3b3bff" d="M128 624H130V625H128z"/>
<path fill="#ffd700" d="M130 624H133V625H130zM128 625H130V628H128z"/>
<path fill="#ba55d3" d="M130 625H133V627H130z"/>
<path fill="#ffd700" d="M124 627H126V636H124z"/>
<path fill="#ffb6c1" d="M126 628H128V630H126z"/>
<path fill="#ba55d3" d="M128 628H130V630H128z"/>
<path fill="#00bfff" d="M130 627H133V628H130z"/>
<path fill="#ffd700" d="M130 628H133V630H130z"/>
<path fill="#ff0000" d="M116 630H118V636H116z"/>
<path fill="#ffd700" d="M118 630H120V634H118z"/>
<path fill="#00ffff" d="M120 630H122V632H120z"/>
<path fill="#ffd700" d="M122 630H124V632H122z"/>
<path fill="#ba55d3" d="M126 630H128V632H126z"/>
<path fill="#00ffff" d="M128 630H133V632H128z"/>
<path fill="#ffb6c1" d="M120 632H124V634H120zM126 632H128V636H126z"/>
<path fill="#00ffff" d="M128 632H130V634H128z"/>
<path fill="#00bfff" d="M130 632H133V634H130z"/>
<path fill="#ffb6c1" d="M118 634H120V636H118z"/>
<path fill="#ffd700" d="M120 634H122V636H120z"/>
<path fill="#ffb6c1" d="M122 634H124V636H122z"/>
<path fill="#00bfff" d="M128 634H130V636H128z"/>
<path fill="#ff0000" d="M130 634H133V636H130z"/>
<path fill="#ffb6c1" d="M116 636H118V638H116z"/>
<path fill="#00ffff" d="M118 636H120V638H118z"/>
<path fill="#ffd700" d="M122 636H124V638H122z"/>
<path fill="#ff0000" d="M126 636H130V640H126z"/>
<path fill="#ffd700" d="M116 638H118V640H116z"/>
<path fill="#ffb6c1" d="M120 638H126V640H120z"/>
<path fill="#00bfff" d="M118 640H120V641H118zM122 640H124V641H122z"/>
<path fill="#ffd700" d="M118 641H120V643H118z"/>
<path fill="#ffb6c1" d="M122 641H126V643H122z"/>
<path fill="#ffd700" d="M124 640H126V641H124z"/>
<path fill="#ff0000" d="M126 640H128V645H126z"/>
<path fill="#ffd700" d="M128 640H130V643H128z"/>
<path fill="#00ffff" d="M130 640H133V643H130z"/>
<path fill="#ffb6c1" d="M116 643H120V645H116z"/>
<path fill="#ffd700" d="M120 643H122V645H120z"/>
<path fill="#ff0000" d="M122 643H124V645H122z"/>
<path fill="#ffd700" d="M124 643H126V649H124z"/>
<path fill="#00ffff" d="M128 643H130V647H128z"/>
<path fill="#00bfff" d="M130 643H133V645H130z"/>
<path fill="#ff0000" d="M116 645H118V647H116z"/>
<path fill="#ffb6c1" d="M118 645H120V647H118z"/>
<path fill="#00ffff" d="M120 645H124V647H120z"/>
<path fill="#3b3bff" d="M126 645H128V647H126z"/>
<path fill="#ff0000" d="M130 645H133V647H130z"/>
<path fill="#ba55d3" d="M114 647H116V649H114z"/>
<path fill="#00ffff" d="M118 647H120V653H118z"/>
<path fill="#ff0000" d="M120 647H122V651H120z"/>
<path fill="#00ffff" d="M122 647H124V653H122z"/>
<path fill="#ff0000" d="M126 647H128V651H126z"/>
<path fill="#ffb6c1" d="M128 647H133V649H128z"/>
<path fill="#ffd700" d="M114 649H116V651H114z"/>
<path fill="#ffb6c1" d="M116 649H118V653H116z"/>
<path fill="#ff0000" d="M124 649H126V651H124z"/>
<path fill="#ffb6c1" d="M128 649H130V651H128z"/>
<path fill="#00ffff" d="M130 649H133V651H130zM114 651H116V653H114z"/>
<path fill="#ff0000" d="M122 653H124V654H122z"/>
<path fill="#00ffff" d="M128 653H130V654H128z"/>
<path fill="#ffd700" d="M128 654H130V656H128z"/>
<path fill="#ff0000" d="M128 656H130V658H128z"/>
<path fill="#00bfff" d="M135 636H138V638H135z"/>
<path fill="#00ffff" d="M135 643H138V647H135z"/>
<path fill="#ff0000" d="M147 624H151V625H147z"/>
<path fill="#ffd700" d="M157 624H161V625H157z"/>
<path fill="#ffb6c1" d="M161 624H164V625H161z"/>
<path fill="#ba55d3" d="M169.1 624H170V625H169.1z"/>
<path fill="#ffb6c1" d="M140 625H143V627H140z"/>
<path fill="#00bfff" d="M143 625H151V627H143z"/>
<path fill="#ffd700" d="M151 625H154V628H151z"/>
<path fill="#00ffff" d="M154 625H157V627H154z"/>
<path fill="#ffb6c1" d="M161 625H164V630H161z"/>
<path fill="#00ffff" d="M140 627H143V628H140z"/>
<path fill="#ffd700" d="M143 627H151V628H143z"/>
<path fill="#00bfff" d="M154 627H157V628H154zM140 628H143V632H140z"/>
<path fill="#ff0000" d="M143 628H151V630H143z"/>
<path fill="#ffb6c1" d="M154 628H157V630H154z"/>
<path fill="#ff0000" d="M157 627H161V630H157z"/>
<path fill="#ba55d3" d="M164 628H166V630H164z"/>
<path fill="#00bfff" d="M166 627H169.1V630H166z"/>
<path fill="#00ffff" d="M139 630H140V632H139z"/>
<path fill="#00bfff" d="M147 630H151V634H147z"/>
<path fill="#ffb6c1" d="M151 630H154V632H151z"/>
<path fill="#008000" d="M154 630H157V632H154z"/>
<path fill="#00bfff" d="M157 630H161V632H157z"/>
<path fill="#ff0000" d="M164 630H166V634H164z"/>
<path fill="#00bfff" d="M169.1 628H170V632H169.1z"/>
<path fill="#ffd700" d="M139 632H140V634H139z"/>
<path fill="#ff0000" d="M140 632H143V634H140z"/>
<path fill="#ffb6c1" d="M143 632H147V636H143z"/>
<path fill="#00bfff" d="M151 632H154V636H151z"/>
<path fill="#ff0000" d="M154 632H157V636H154z"/>
<path fill="#ffb6c1" d="M157 632H164V638H157z"/>
<path fill="#00bfff" d="M166 632H170V634H166z"/>
<path fill="#ff0000" d="M139 634H140V636H139z"/>
<path fill="#00bfff" d="M140 634H143V638H140z"/>
<path fill="#ffb6c1" d="M147 634H151V636H147z"/>
<path fill="#ff0000" d="M161 634H164V636H161z"/>
<path fill="#00ffff" d="M164 634H166V636H164z"/>
<path fill="#ffb6c1" d="M166 634H169.1V636H166z"/>
<path fill="#00bfff" d="M169.1 634H170V638H169.1z"/>
<path fill="#ff0000" d="M143 636H147V638H143z"/>
<path fill="#00bfff" d="M147 636H151V638H147z"/>
<path fill="#ffd700" d="M154 636H157V640H154z"/>
<path fill="#ffb6c1" d="M164 636H166V638H164z"/>
<path fill="#ff0000" d="M166 636H169.1V638H166z"/>
<path fill="#ffb6c1" d="M140 638H147V641H140z"/>
<path fill="#ff0000" d="M151 638H154V641H151z"/>
<path fill="#00ffff" d="M157 638H161V640H157z"/>
<path fill="#ffd700" d="M161 638H164V641H161z"/>
<path fill="#ff0000" d="M164 638H166V641H164z"/>
<path fill="#ffb6c1" d="M166 638H169.1V640H166z"/>
<path fill="#ff0000" d="M169.1 638H170V640H169.1z"/>
<path fill="#00bfff" d="M139 640H140V641H139zM154 640H161V641H154z"/>
<path fill="#ff0000" d="M139 641H147V645H139z"/>
<path fill="#00ffff" d="M147 641H157V643H147zM139 643H140V645H139z"/>
<path fill="#ffb6c1" d="M147 643H151V645H147z"/>
<path fill="#00ffff" d="M157 643H161V645H157z"/>
<path fill="#ff0000" d="M164 643H166V645H164z"/>
<path fill="#00bfff" d="M139 645H140V647H139z"/>
<path fill="#ff0000" d="M140 645H143V649H140z"/>
<path fill="#ffd700" d="M143 645H147V647H143z"/>
<path fill="#ff0000" d="M151 647H154V649H151z"/>
<path fill="#ba55d3" d="M170 624H173V625H170z"/>
<path fill="#00ffff" d="M173 624H176V625H173z"/>
<path fill="#3b3bff" d="M176 624H180V625H176z"/>
<path fill="#00bfff" d="M180 624H195V625H180z"/>
<path fill="#ff0000" d="M195 624H199V625H195z"/>
<path fill="#008000" d="M208 624H230V625H208z"/>
<path fill="#00ffff" d="M212 624H217V625H212zM222 624H226V625H222z"/>
<path fill="#008000" d="M176 625H180V627H176z"/>
<path fill="#00bfff" d="M180 625H187V627H180z"/>
<path fill="#ffb6c1" d="M191 625H195V627H191z"/>
<path fill="#00bfff" d="M195 625H199V627H195z"/>
<path fill="#008000" d="M208 625H212V627H208zM217 625H230V627H217z"/>
<path fill="#ff0000" d="M212 625H217V627H212zM170 627H173V628H170z"/>
<path fill="#ba55d3" d="M173 627H176V628H173z"/>
<path fill="#008000" d="M176 627H180V628H176z"/>
<path fill="#00ffff" d="M187 627H191V630H187z"/>
<path fill="#008000" d="M191 627H195V628H191z"/>
<path fill="#00ffff" d="M195 627H199V628H195z"/>
<path fill="#00bfff" d="M204 627H208V628H204z"/>
<path fill="#008000" d="M217 627H226V628H217z"/>
<path fill="#ffb6c1" d="M170 628H173V630H170z"/>
<path fill="#00bfff" d="M173 628H176V632H173z"/>
<path fill="#3b3bff" d="M176 628H180V630H176z"/>
<path fill="#00bfff" d="M184 628H187V630H184z"/>
<path fill="#ffd700" d="M191 628H195V630H191z"/>
<path fill="#ffb6c1" d="M195 628H199V630H195z"/>
<path fill="#ff0000" d="M199 628H204V632H199z"/>
<path fill="#008000" d="M204 628H208V632H204z"/>
<path fill="#ff0000" d="M208 627H212V630H208z"/>
<path fill="#008000" d="M212 627H217V634H212z"/>
<path fill="#00ffff" d="M222 628H226V630H222zM170 630H173V632H170z"/>
<path fill="#ff0000" d="M176 630H180V632H176zM184 630H187V632H184z"/>
<path fill="#00bfff" d="M187 630H191V632H187z"/>
<path fill="#00ffff" d="M191 630H195V632H191z"/>
<path fill="#008000" d="M195 630H199V634H195z"/>
<path fill="#00bfff" d="M170 632H173V638H170z"/>
<path fill="#00ffff" d="M173 632H176V638H173z"/>
<path fill="#3b3bff" d="M176 632H180V634H176z"/>
<path fill="#ffd700" d="M184 632H187V634H184z"/>
<path fill="#008000" d="M187 632H191V634H187z"/>
<path fill="#ffd700" d="M191 632H195V636H191z"/>
<path fill="#ff0000" d="M176 634H180V638H176z"/>
<path fill="#00ffff" d="M180 634H184V636H180z"/>
<path fill="#ff0000" d="M184 634H187V636H184z"/>
<path fill="#ffb6c1" d="M195 634H199V636H195z"/>
<path fill="#008000" d="M199 634H204V636H199z"/>
<path fill="#00bfff" d="M180 636H184V638H180z"/>
<path fill="#008000" d="M184 636H187V638H184zM195 636H199V638H195z"/>
<path fill="#ff0000" d="M170 638H173V640H170z"/>
<path fill="#ffb6c1" d="M173 638H176V640H173z"/>
<path fill="#ba55d3" d="M176 638H180V643H176z"/>
<path fill="#ff0000" d="M180 638H184V640H180z"/>
<path fill="#00bfff" d="M180 641H184V643H180z"/>
<path fill="#ffb6c1" d="M184 643H187V645H184z"/>
<path fill="#00ffff" d="M238 624H243V625H238z"/>
<path fill="#ff0000" d="M238 625H243V627H238z"/>
<path fill="#ffb6c1" d="M126 489H130V491H126z"/>
<path fill="#00bfff" d="M128 497H130V500H128z"/>
<path fill="#ffb6c1" d="M120 499H122V500H120z"/>
<path fill="#ff0000" d="M120 500H122V502H120zM128 500H130V502H128z"/>
<path fill="#ffd700" d="M122 502H124V504H122z"/>
<path fill="#ffb6c1" d="M128 502H130V504H128z"/>
<path fill="#00bfff" d="M130 502H133V504H130z"/>
<path fill="#ffd700" d="M120 504H122V508H120z"/>
<path fill="#ff0000" d="M122 504H124V506H122zM128 504H130V506H128z"/>
<path fill="#00ffff" d="M118 508H120V510H118zM139 498H143V499H139z"/>
<path fill="#ff0000" d="M143 498H147V499H143z"/>
<path fill="#00bfff" d="M139 499H140V500H139z"/>
<path fill="#ffd700" d="M140 499H143V500H140z"/>
<path fill="#00bfff" d="M143 499H147V500H143z"/>
<path fill="#ffb6c1" d="M139 500H143V502H139z"/>
<path fill="#ba55d3" d="M231 523.9H238V525.9H231z"/>
<path fill="#3b3bff" d="M231 525.9H238V528H231z"/>
<path fill="#ff0000" d="M623 735.9H639.1V737.9H623z"/>
<path fill="#ffb6c1" d="M724.9 735.9H742.9V737.9H724.9z"/>
<path fill="#ba55d3" d="M782 233H785V235H782z"/>
<path fill="#ffd700" d="M782 602H785V604H782z"/>
<path fill="#00ffff" d="M782 646.9H785V648.9H782z"/>
</g>
<g stroke="#b0b0b0" stroke-width="1.1" fill="none">
<line x1="138.50" y1="100.5" x2="138.50" y2="793.5"/>
<line x1="230.50" y1="100.5" x2="230.50" y2="793.5"/>
<line x1="323.50" y1="100.5" x2="323.50" y2="793.5"/>
<line x1="415.50" y1="100.5" x2="415.50" y2="793.5"/>
<line x1="508.50" y1="100.5" x2="508.50" y2="793.5"/>
<line x1="600.50" y1="100.5" x2="600.50" y2="793.5"/>
<line x1="692.50" y1="100.5" x2="692.50" y2="793.5"/>
<line x1="92.5" y1="669.50" x2="785.5" y2="669.50"/>
<line x1="92.5" y1="545.50" x2="785.5" y2="545.50"/>
<line x1="92.5" y1="421.50" x2="785.5" y2="421.50"/>
<line x1="92.5" y1="298.50" x2="785.5" y2="298.50"/>
<line x1="92.5" y1="174.50" x2="785.5" y2="174.50"/>
</g>
<g stroke="#000" stroke-width="1.1" fill="none">
<line x1="138.50" y1="793.5" x2="138.50" y2="798.40"/>
<line x1="230.50" y1="793.5" x2="230.50" y2="798.40"/>
<line x1="323.50" y1="793.5" x2="323.50" y2="798.40"/>
<line x1="415.50" y1="793.5" x2="415.50" y2="798.40"/>
<line x1="508.50" y1="793.5" x2="508.50" y2="798.40"/>
<line x1="600.50" y1="793.5" x2="600.50" y2="798.40"/>
<line x1="692.50" y1="793.5" x2="692.50" y2="798.40"/>
<line x1="785.50" y1="793.5" x2="785.50" y2="798.40"/>
<line x1="92.50" y1="793.5" x2="92.50" y2="796.40"/>
<line x1="115.50" y1="793.5" x2="115.50" y2="796.40"/>
<line x1="161.50" y1="793.5" x2="161.50" y2="796.40"/>
<line x1="184.50" y1="793.5" x2="184.50" y2="796.40"/>
<line x1="207.50" y1="793.5" x2="207.50" y2="796.40"/>
<line x1="254.50" y1="793.5" x2="254.50" y2="796.40"/>
<line x1="277.50" y1="793.5" x2="277.50" y2="796.40"/>
<line x1="300.50" y1="793.5" x2="300.50" y2="796.40"/>
<line x1="346.50" y1="793.5" x2="346.50" y2="796.40"/>
<line x1="369.50" y1="793.5" x2="369.50" y2="796.40"/>
<line x1="392.50" y1="793.5" x2="392.50" y2="796.40"/>
<line x1="438.50" y1="793.5" x2="438.50" y2="796.40"/>
<line x1="461.50" y1="793.5" x2="461.50" y2="796.40"/>
<line x1="485.50" y1="793.5" x2="485.50" y2="796.40"/>
<line x1="531.50" y1="793.5" x2="531.50" y2="796.40"/>
<line x1="554.50" y1="793.5" x2="554.50" y2="796.40"/>
<line x1="577.50" y1="793.5" x2="577.50" y2="796.40"/>
<line x1="623.50" y1="793.5" x2="623.50" y2="796.40"/>
<line x1="646.50" y1="793.5" x2="646.50" y2="796.40"/>
<line x1="669.50" y1="793.5" x2="669.50" y2="796.40"/>
<line x1="716.50" y1="793.5" x2="716.50" y2="796.40"/>
<line x1="739.50" y1="793.5" x2="739.50" y2="796.40"/>
<line x1="762.50" y1="793.5" x2="762.50" y2="796.40"/>
<line x1="87.60" y1="793.50" x2="92.5" y2="793.50"/>
<line x1="87.60" y1="669.50" x2="92.5" y2="669.50"/>
<line x1="87.60" y1="545.50" x2="92.5" y2="545.50"/>
<line x1="87.60" y1="421.50" x2="92.5" y2="421.50"/>
<line x1="87.60" y1="298.50" x2="92.5" y2="298.50"/>
<line x1="87.60" y1="174.50" x2="92.5" y2="174.50"/>
<line x1="89.60" y1="762.50" x2="92.5" y2="762.50"/>
<line x1="89.60" y1="731.50" x2="92.5" y2="731.50"/>
<line x1="89.60" y1="700.50" x2="92.5" y2="700.50"/>
<line x1="89.60" y1="638.50" x2="92.5" y2="638.50"/>
<line x1="89.60" y1="607.50" x2="92.5" y2="607.50"/>
<line x1="89.60" y1="576.50" x2="92.5" y2="576.50"/>
<line x1="89.60" y1="514.50" x2="92.5" y2="514.50"/>
<line x1="89.60" y1="483.50" x2="92.5" y2="483.50"/>
<line x1="89.60" y1="452.50" x2="92.5" y2="452.50"/>
<line x1="89.60" y1="390.50" x2="92.5" y2="390.50"/>
<line x1="89.60" y1="359.50" x2="92.5" y2="359.50"/>
<line x1="89.60" y1="329.50" x2="92.5" y2="329.50"/>
<line x1="89.60" y1="267.50" x2="92.5" y2="267.50"/>
<line x1="89.60" y1="236.50" x2="92.5" y2="236.50"/>
<line x1="89.60" y1="205.50" x2="92.5" y2="205.50"/>
<line x1="89.60" y1="143.50" x2="92.5" y2="143.50"/>
<line x1="89.60" y1="112.50" x2="92.5" y2="112.50"/>
<rect x="92.5" y="100.5" width="693.00" height="693.00"/>
</g>
<rect x="816.5" y="82.50" width="30.00" height="90.50" fill="#00bfff"/>
<rect x="816.5" y="172.50" width="30.00" height="90.50" fill="#00ffff"/>
<rect x="816.5" y="262.50" width="30.00" height="90.50" fill="#ffd700"/>
<rect x="816.5" y="352.50" width="30.00" height="90.50" fill="#ffb6c1"/>
<rect x="816.5" y="442.50" width="30.00" height="90.50" fill="#ba55d3"/>
<rect x="816.5" y="532.50" width="30.00" height="90.50" fill="#3b3bff"/>
<rect x="816.5" y="622.50" width="30.00" height="90.50" fill="#ff0000"/>
<rect x="816.5" y="712.50" width="30.00" height="90.50" fill="#008000"/>
<g stroke="#000" stroke-width="1.1" fill="none">
<rect x="816.5" y="82.5" width="30.00" height="720.00"/>
<line x1="846.5" y1="127.50" x2="851.40" y2="127.50"/>
<line x1="846.5" y1="217.50" x2="851.40" y2="217.50"/>
<line x1="846.5" y1="307.50" x2="851.40" y2="307.50"/>
<line x1="846.5" y1="397.50" x2="851.40" y2="397.50"/>
<line x1="846.5" y1="487.50" x2="851.40" y2="487.50"/>
<line x1="846.5" y1="577.50" x2="851.40" y2="577.50"/>
<line x1="846.5" y1="667.50" x2="851.40" y2="667.50"/>
<line x1="846.5" y1="757.50" x2="851.40" y2="757.50"/>
<line x1="846.5" y1="82.50" x2="849.40" y2="82.50"/>
<line x1="846.5" y1="172.50" x2="849.40" y2="172.50"/>
<line x1="846.5" y1="262.50" x2="849.40" y2="262.50"/>
<line x1="846.5" y1="352.50" x2="849.40" y2="352.50"/>
<line x1="846.5" y1="442.50" x2="849.40" y2="442.50"/>
<line x1="846.5" y1="532.50" x2="849.40" y2="532.50"/>
<line x1="846.5" y1="622.50" x2="849.40" y2="622.50"/>
<line x1="846.5" y1="712.50" x2="849.40" y2="712.50"/>
<line x1="846.5" y1="802.50" x2="849.40" y2="802.50"/>
</g>
<text x="855.07" y="132.89" font-size="17" textLength="35.73" lengthAdjust="spacingAndGlyphs">NNE</text>
<text x="855.46" y="222.86" font-size="17" textLength="10.91" lengthAdjust="spacingAndGlyphs">E</text>
<text x="855.52" y="312.84" font-size="17" textLength="31.01" lengthAdjust="spacingAndGlyphs">SSE</text>
<text x="855.55" y="402.81" font-size="17" textLength="36.64" lengthAdjust="spacingAndGlyphs">SSW</text>
<text x="856.74" y="492.79" font-size="17" textLength="15.09" lengthAdjust="spacingAndGlyphs">W</text>
<text x="855.21" y="582.76" font-size="17" textLength="40.83" lengthAdjust="spacingAndGlyphs">NNW</text>
<text x="856.06" y="672.74" font-size="17" textLength="62.01" lengthAdjust="spacingAndGlyphs">Vertical</text>
<text x="855.58" y="762.71" font-size="17" textLength="63.50" lengthAdjust="spacingAndGlyphs">X-mode</text>
<text x="133.00" y="815.20" font-size="17" textLength="10.23" lengthAdjust="spacingAndGlyphs">2</text>
<text x="225.57" y="815.20" font-size="17" textLength="9.15" lengthAdjust="spacingAndGlyphs">4</text>
<text x="317.93" y="815.20" font-size="17" textLength="10.20" lengthAdjust="spacingAndGlyphs">6</text>
<text x="410.12" y="815.20" font-size="17" textLength="10.01" lengthAdjust="spacingAndGlyphs">8</text>
<text x="498.46" y="815.20" font-size="17" textLength="19.67" lengthAdjust="spacingAndGlyphs">10</text>
<text x="590.33" y="815.20" font-size="17" textLength="19.92" lengthAdjust="spacingAndGlyphs">12</text>
<text x="682.43" y="815.20" font-size="17" textLength="19.58" lengthAdjust="spacingAndGlyphs">14</text>
<text x="775.31" y="815.20" font-size="17" textLength="19.88" lengthAdjust="spacingAndGlyphs">16</text>
<text x="72.18" y="798.90" font-size="17" textLength="10.44" lengthAdjust="spacingAndGlyphs">0</text>
<text x="49.42" y="675.15" font-size="17" textLength="31.66" lengthAdjust="spacingAndGlyphs">200</text>
<text x="50.08" y="551.40" font-size="17" textLength="31.11" lengthAdjust="spacingAndGlyphs">400</text>
<text x="49.37" y="427.65" font-size="17" textLength="31.83" lengthAdjust="spacingAndGlyphs">600</text>
<text x="49.63" y="303.90" font-size="17" textLength="31.39" lengthAdjust="spacingAndGlyphs">800</text>
<text x="40.13" y="180.15" font-size="17" textLength="40.95" lengthAdjust="spacingAndGlyphs">1000</text>
<text x="148.14" y="31.90" font-size="29.3" textLength="57.83" lengthAdjust="spacingAndGlyphs">NAL</text>
<text x="214.38" y="31.90" font-size="29.3" textLength="71.13" lengthAdjust="spacingAndGlyphs">CADI</text>
<text x="294.05" y="31.90" font-size="29.3" textLength="11.56" lengthAdjust="spacingAndGlyphs">-</text>
<text x="313.87" y="31.90" font-size="29.3" textLength="55.54" lengthAdjust="spacingAndGlyphs">Dec</text>
<text x="380.10" y="31.90" font-size="29.3" textLength="35.08" lengthAdjust="spacingAndGlyphs">15</text>
<text x="424.87" y="31.90" font-size="29.3" textLength="129.53" lengthAdjust="spacingAndGlyphs">20:15:00</text>
<text x="563.91" y="31.90" font-size="29.3" textLength="72.29" lengthAdjust="spacingAndGlyphs">2022</text>
<text x="646.55" y="31.90" font-size="29.3" textLength="57.57" lengthAdjust="spacingAndGlyphs">UTC</text>
<text x="336.70" y="841.50" font-size="25.0" textLength="123.06" lengthAdjust="spacingAndGlyphs">Frequency</text>
<text x="468.63" y="841.50" font-size="25.0" textLength="70.20" lengthAdjust="spacingAndGlyphs">(MHz)</text>
<g transform="translate(28.40,560.04) rotate(-90)"><text x="0.00" y="0.00" font-size="25.0" textLength="77.99" lengthAdjust="spacingAndGlyphs">Virtual</text></g>
<g transform="translate(28.40,473.85) rotate(-90)"><text x="0.00" y="0.00" font-size="25.0" textLength="75.54" lengthAdjust="spacingAndGlyphs">height</text></g>
<g transform="translate(28.40,389.89) rotate(-90)"><text x="0.00" y="0.00" font-size="25.0" textLength="55.31" lengthAdjust="spacingAndGlyphs">(km)</text></g>
<g transform="translate(943.90,549.74) rotate(-90)"><text x="0.00" y="0.00" font-size="25.0" textLength="98.21" lengthAdjust="spacingAndGlyphs">Azimuth</text></g>
<g transform="translate(943.90,444.27) rotate(-90)"><text x="0.00" y="0.00" font-size="25.0" textLength="109.12" lengthAdjust="spacingAndGlyphs">Direction</text></g>
</svg>
</body></html>
